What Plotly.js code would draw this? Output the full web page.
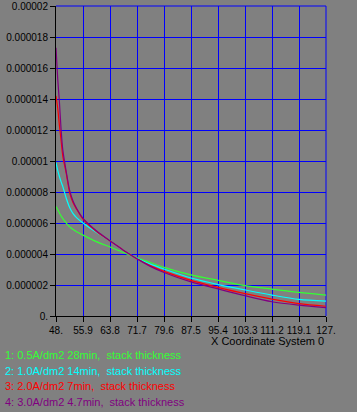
<!DOCTYPE html>
<html>
<head>
<meta charset="utf-8">
<script src="https://cdn.plot.ly/plotly-3.0.1.min.js"></script>
<style>
html,body{margin:0;padding:0;background:#808080;}
#chart{width:357px;height:412px;}
</style>
</head>
<body>
<div id="chart"></div>
<script>
// Shared x positions (X Coordinate System 0)
const xPos = [48, 48.5, 49, 49.5, 50, 51, 52, 53, 54, 55.9, 59.8, 63.8, 67.7, 71.7, 75.6, 79.6, 87.5, 95.4, 103.3, 111.2, 119.1, 127];

// Stack thickness values (in units of 1e-6)
const s1 = [7.06, 6.85, 6.65, 6.45, 6.28, 6.0, 5.75, 5.58, 5.44, 5.22, 4.8, 4.45, 4.1, 3.75, 3.45, 3.14, 2.65, 2.3, 1.96, 1.74, 1.52, 1.35];
const s2 = [9.9, 9.4, 9.0, 8.65, 8.35, 7.6, 7.0, 6.6, 6.35, 6.0, 5.4, 4.85, 4.25, 3.72, 3.35, 3.03, 2.45, 2.03, 1.68, 1.35, 1.07, 0.96];
const s3 = [14.2, 13.4, 12.3, 11.3, 10.3, 9.2, 7.95, 7.3, 6.9, 6.25, 5.45, 4.84, 4.25, 3.7, 3.25, 2.88, 2.3, 1.85, 1.44, 1.09, 0.8, 0.63];
const s4 = [17.3, 15.3, 13.8, 12.0, 10.7, 9.3, 8.1, 7.4, 6.95, 6.3, 5.5, 4.85, 4.25, 3.7, 3.2, 2.81, 2.2, 1.75, 1.31, 0.92, 0.7, 0.54];

const seriesNames = ["1: 0.5A/dm2 28min,  stack thickness", "2: 1.0A/dm2 14min,  stack thickness", "3: 2.0A/dm2 7min,  stack thickness", "4: 3.0A/dm2 4.7min,  stack thickness"];
const seriesColors = ["#33ff33", "#00ffff", "#ff0000", "#800080"];

const xTickVals = [48, 55.9, 63.8, 71.7, 79.6, 87.5, 95.4, 103.3, 111.2, 119.1, 127];
const xTickText = ["48.", "55.9", "63.8", "71.7", "79.6", "87.5", "95.4", "103.3", "111.2", "119.1", "127."];
const yTickVals = [0, 0.000002, 0.000004, 0.000006, 0.000008, 0.00001, 0.000012, 0.000014, 0.000016, 0.000018, 0.00002];
const yTickText = ["0.", "0.000002", "0.000004", "0.000006", "0.000008", "0.00001", "0.000012", "0.000014", "0.000016", "0.000018", "0.00002"];

const allSeries = [s1, s2, s3, s4];
const traces = allSeries.map((s, i) => ({
  x: xPos,
  y: s.map(v => v * 1e-6),
  type: "scatter",
  mode: "lines",
  name: seriesNames[i],
  line: {color: seriesColors[i], width: 1.2, shape: "spline", smoothing: 0.8},
  hoverinfo: "skip"
}));

const font = {family: "Liberation Sans, Arial, sans-serif", size: 11, color: "#000000"};
const tickFont = {family: "Liberation Sans, Arial, sans-serif", size: 10, color: "#000000"};

// plot area: 270 x 310 px (integer grid steps)
const PL = 56, PW = 270, PT = 6, PH = 310;
const annotations = seriesNames.map((t, i) => ({
  xref: "paper", yref: "paper",
  x: -(PL - 3) / PW, y: -(355 - (PT + PH) + i * 15.5) / PH,
  xanchor: "left", yanchor: "middle",
  text: t, showarrow: false,
  font: {family: font.family, size: 11, color: seriesColors[i]}
}));
annotations.push({
  xref: "paper", yref: "paper",
  x: 1, y: -(341 - (PT + PH)) / PH,
  xanchor: "right", yanchor: "middle",
  text: "X Coordinate System 0", showarrow: false,
  font: font
});

const layout = {
  width: 357, height: 412,
  margin: {l: PL, r: 357 - PL - PW, t: PT, b: 412 - PT - PH},
  paper_bgcolor: "#808080",
  plot_bgcolor: "#808080",
  showlegend: false,
  font: font,
  xaxis: {
    range: [48, 127],
    tickvals: xTickVals, ticktext: xTickText,
    showgrid: true, gridcolor: "#0000ff", gridwidth: 1,
    zeroline: false,
    showline: true, linecolor: "#000000", linewidth: 1,
    ticks: "outside", ticklen: 5, tickcolor: "#000000", tickwidth: 1,
    tickfont: tickFont, tickangle: 0, ticklabeloverflow: "allow"
  },
  yaxis: {
    range: [0, 0.00002],
    tickvals: yTickVals, ticktext: yTickText,
    showgrid: true, gridcolor: "#0000ff", gridwidth: 1,
    zeroline: false,
    showline: true, linecolor: "#000000", linewidth: 1,
    ticks: "outside", ticklen: 5, tickcolor: "#000000", tickwidth: 1,
    tickfont: tickFont, ticklabeloverflow: "allow"
  },
  shapes: [
    {type: "line", xref: "paper", yref: "paper", x0: 0, x1: 1, y0: 1, y1: 1, line: {color: "#0000ff", width: 1}, layer: "below"},
    {type: "line", xref: "paper", yref: "paper", x0: 1, x1: 1, y0: 0, y1: 1, line: {color: "#0000ff", width: 1}, layer: "below"}
  ],
  annotations: annotations
};

Plotly.newPlot("chart", traces, layout, {staticPlot: true, displayModeBar: false});
</script>
</body>
</html>
